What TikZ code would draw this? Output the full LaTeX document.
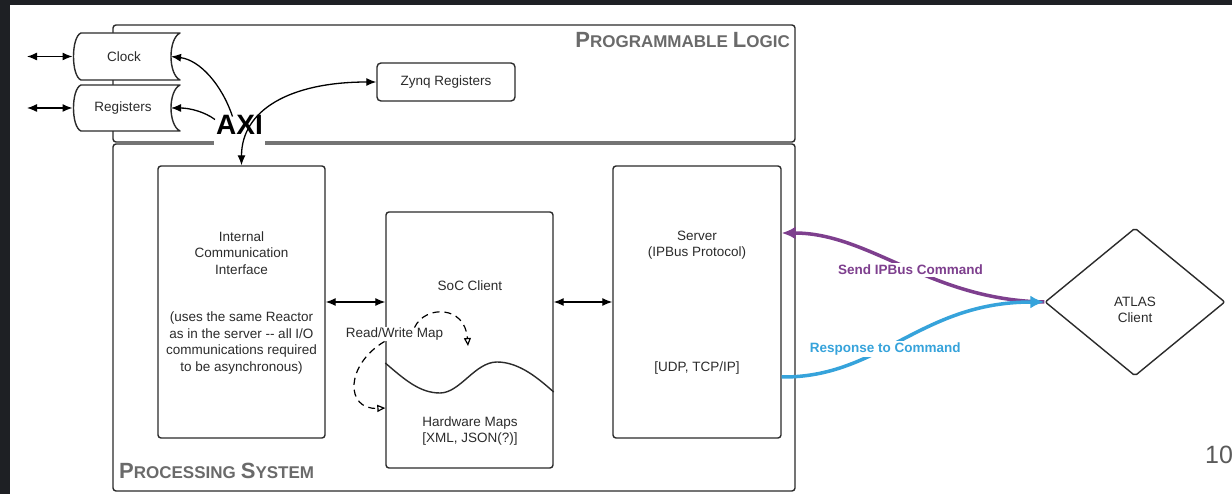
\documentclass[tikz,border=0pt]{standalone}
\usepackage{fontspec}
\setmainfont{Liberation Sans}
\usetikzlibrary{arrows.meta,shapes.geometric,calc}

\definecolor{framedark}{HTML}{1E2024}
\definecolor{ink}{HTML}{2B2B2B}
\definecolor{titlegray}{HTML}{6A6A6A}
\definecolor{pagegray}{HTML}{5A5A5A}
\definecolor{cmdpurple}{HTML}{7E3F8E}
\definecolor{respblue}{HTML}{36A3DB}

% fake small caps: large initial, smaller capitals
\newcommand{\bigsmall}[2]{{\fontsize{22}{22}\selectfont #1}{\fontsize{17}{17}\selectfont #2}}

\begin{document}
\begin{tikzpicture}[x=1pt,y=-1pt,
  box/.style={draw=ink, line width=1.4pt, rounded corners=3pt, inner sep=0pt, fill=white},
  lbl/.style={font=\fontsize{13.5}{16.5}\selectfont, text=ink, align=center, inner sep=0pt},
  link/.style={draw=black, line width=1.3pt},
  store/.style={draw=ink, fill=white, line width=1.4pt, line join=round},
  dashline/.style={draw=black, line width=1.2pt, dash pattern=on 7pt off 5pt},
  cmd/.style={draw=cmdpurple, line width=3.5pt},
  resp/.style={draw=respblue, line width=3.5pt},
  tip/.tip={Latex[length=10pt,width=8pt]},
  bigtip/.tip={Latex[length=14pt,width=13pt]},
  opentip/.tip={Triangle[open,length=8pt,width=7pt,line width=1.2pt]}
]
\useasboundingbox (0,0) rectangle (1232,494);
% slide frame and white canvas
\fill[framedark] (0,0) rectangle (1232,494);
\fill[white] (10,5) rectangle (1232,494);

% the two regions of the chip
\node[box, minimum width=682pt, minimum height=117pt] (pl) at (454,83.5) {};
\node[box, minimum width=682pt, minimum height=347pt] (ps) at (454,317.5) {};
\node[anchor=base east, inner sep=0pt, text=titlegray, font=\bfseries] (pltitle) at (790,48)
  {\bigsmall{P}{ROGRAMMABLE}\hspace{5pt}\bigsmall{L}{OGIC}};
\node[anchor=base west, inner sep=0pt, text=titlegray, font=\bfseries] (pstitle) at (119,478)
  {\bigsmall{P}{ROCESSING}\hspace{5pt}\bigsmall{S}{YSTEM}};

% data stores on the PL side
\draw[store] (81,33) -- (180,33) .. controls (168,39) and (168,74) .. (180,80)
  -- (81,80) .. controls (71,76) and (71,37) .. cycle;
\draw[store] (81,85) -- (180,85) .. controls (168,91) and (168,125) .. (180,131)
  -- (81,131) .. controls (71,127) and (71,89) .. cycle;
\node[lbl] (clock) at (124,56.5) {Clock};
\node[lbl] (regs) at (123,108) {Registers};
\coordinate (clockW) at (72.5,56.5);
\coordinate (clockE) at (171,56.5);
\coordinate (regsW) at (72.5,108);
\coordinate (regsE) at (171,108);
\coordinate (clockext) at (27,56.5);
\coordinate (regsext) at (27,108);

\node[box, rounded corners=4pt, minimum width=138pt, minimum height=38pt, lbl] (zynq) at (446,82) {Zynq Registers};

% blocks of the processing system
\node[box, minimum width=167pt, minimum height=272pt] (ici) at (241.5,302) {};
\node[lbl] (icititle) at (241.5,253) {Internal\\Communication\\Interface};
\node[lbl] (icinote) at (241.5,343) {(uses the same Reactor\\as in the server -{}- all I/O\\communications required\\to be asynchronous)};

\node[box, minimum width=167pt, minimum height=256pt] (soc) at (469.5,340) {};
\node[lbl] (soctitle) at (470,286) {SoC Client};
\node[lbl] (hwmaps) at (470,431) {Hardware Maps\\{[XML, JSON(?)]}};
\draw[ink, line width=1.4pt] (soc.west |- 0,363) .. controls (405,380) and (420,393) .. (440,393)
  .. controls (460,393) and (475,362) .. (497,362)
  .. controls (520,362) and (540,380) .. (soc.east |- 0,392);

\node[box, minimum width=168pt, minimum height=272pt] (server) at (697,302) {};
\node[lbl] (srvtitle) at (697,245) {Server\\(IPBus Protocol)};
\node[lbl] (srvproto) at (697,368) {{[UDP, TCP/IP]}};

% external client
\node[diamond, draw=ink, line width=1.4pt, rounded corners=2pt, minimum width=180pt, minimum height=148pt, inner sep=0pt] (atlas) at (1135,302) {};
\node[lbl] (atlastext) at (1135,310) {ATLAS\\Client};

% AXI bus label, breaking the boundary between PL and PS
\node[anchor=base, font=\bfseries\fontsize{28}{28}\selectfont, fill=white, inner xsep=2pt, inner ysep=1pt, text depth=11pt] (axi) at (239.5,135) {AXI};

% connectors
\draw[link, tip-tip] (clockext) -- (clockW);
\draw[link, tip-tip] (regsext) -- (regsW);
\draw[link, -tip] ($(axi.north)+(-7,2)$) .. controls (222,85) and (200,60) .. (clockE);
\draw[link, -tip] ($(axi.north west)+(1,5)$) .. controls (205,112) and (190,108) .. (regsE);
\draw[link, tip-tip] (ici.north) .. controls (241.5,110) and (290,82) .. (zynq.west);
\draw[link, tip-tip] (ici.east) -- (ici.east -| soc.west);
\draw[link, tip-tip] (soc.east |- server.west) -- (server.west);

\node[lbl, fill=white, inner sep=1pt] (rw) at (394.5,334) {Read/Write Map};
\draw[dashline, -opentip] ($(rw.north)+(20,1)$) .. controls (425,305) and (465,305) .. (468,346);
\draw[dashline, -opentip] ($(rw.south)+(-10,0)$) .. controls (345,365) and (345,410) .. (soc.west |- 0,408);

\draw[cmd, -bigtip] (atlas.west) .. controls (930,300) and (870,233) .. (server.east |- 0,233)
  node[pos=0.47, fill=white, inner sep=2pt, text=cmdpurple, font=\bfseries\fontsize{13.5}{16}\selectfont] (sendlbl) {Send IPBus Command};
\draw[resp, -bigtip] (server.east |- 0,377) .. controls (880,378) and (920,302) .. (atlas.west)
  node[pos=0.42, fill=white, inner sep=2pt, text=respblue, font=\bfseries\fontsize{13.5}{16}\selectfont] (resplbl) {Response to Command};

% slide number
\node[anchor=base west, inner sep=0pt, text=pagegray, font=\fontsize{25}{25}\selectfont] (pagenum) at (1205,463) {10};
\end{tikzpicture}
\end{document}
